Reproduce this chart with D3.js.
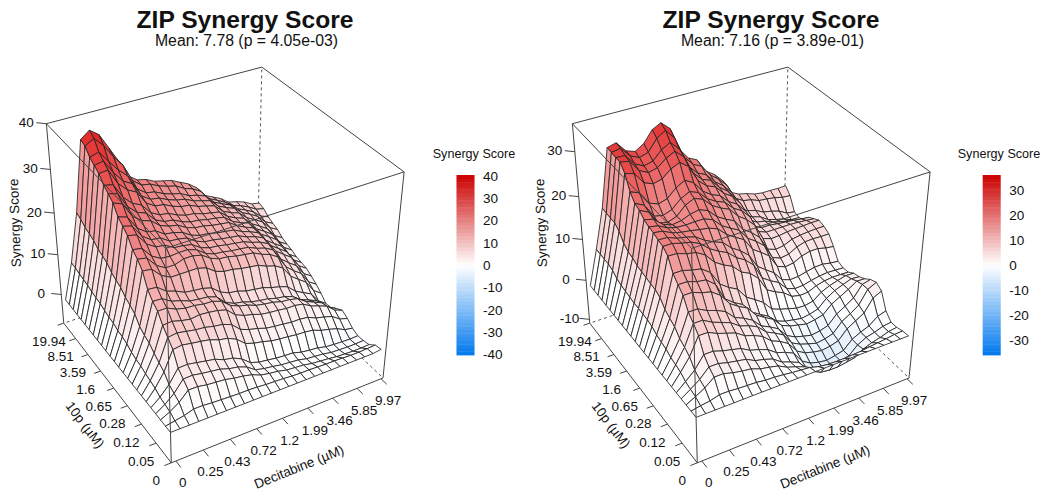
<!DOCTYPE html>
<html><head><meta charset="utf-8">
<script src="https://cdnjs.cloudflare.com/ajax/libs/d3/7.8.5/d3.min.js"></script>
<style>html,body{margin:0;background:#fff}svg{display:block}text{font-family:"Liberation Sans",Arial,sans-serif;fill:#111}</style>
</head><body><svg id="c" width="1050" height="500"></svg>
<script>
const decitabineDoses=["0","0.25","0.43","0.72","1.2","1.99","3.46","5.85","9.97"];
const tenPDoses=["0","0.05","0.12","0.28","0.65","1.6","3.59","8.51","19.94"];
// rows: 10p grid position (front to back); columns: Decitabine grid position
const scoresLeft=[
[0,0,0,0,0,0,0,0,0,0,0,0,0,0,0,0,0,0,0,0,0,0,0,0,0.3],
[0,.4,.8,1.5,1.5,1.3,1.2,1.1,1,1,.9,.7,.6,.5,.3,.2,.2,.1,0,0,-.1,-.2,-.2,-.1,0],
[0,1.1,2.5,4.6,4.6,4.2,4,3.8,3.3,3,2.5,1.6,1.2,.9,.4,.2,0,-.4,-.6,-.8,-1.1,-1.2,-1.3,-1.3,-1.2],
[0,1.4,3.2,5.8,5.9,5.5,5.2,4.9,4.2,3.8,3,1.5,1,.7,.3,.1,-.1,-.6,-.8,-1,-1.4,-1.5,-1.6,-1.6,-1.5],
[0,1.7,3.9,7,7.1,6.7,6.3,5.9,5,4.6,3.6,1.9,1.2,.9,.6,.4,.3,-.3,-.6,-.8,-1.3,-1.5,-1.6,-1.7,-1.6],
[0,2.4,5.5,10,10.3,9.9,9.6,9.2,8.4,8,7,5.2,4.5,4.1,3.5,3.2,3,2.7,2.6,2.3,1.5,1,.4,-.6,-1],
[0,2.8,6.3,11.5,11.8,11.4,11,10.8,10.3,10,9.2,7.3,6.5,6,5.3,5,4.8,4.5,4.5,4.2,3.3,2.8,2.2,.8,.2],
[0,3.1,7.2,13,13.2,12.6,12.2,12.5,12.3,12,11.4,9.5,8.6,8.1,7.4,7.1,6.9,6.6,6.6,6.2,5,4.3,3.5,1.8,1],
[0,3.6,8.3,15,15,14,13.5,13.4,13,12.9,12.2,10.5,9.6,9.1,8.3,7.9,7.6,7,6.8,6.3,4.9,4,3.1,1.2,.2],
[0,3.8,8.8,16,15.9,14.6,14,13.2,12.9,12.7,12,10,9,8.6,7.9,7.5,7.2,6.6,6.3,5.6,4.1,3.3,2.4,.3,-.8],
[0,4.2,9.6,17.5,17.3,15.7,15,14,13.7,13.5,12.9,11.2,10.3,10,9.3,9,8.7,8,7.5,6.8,5,3.9,2.9,.4,-1],
[0,4.9,11.3,20.5,20.2,18.1,17,17,17,17,16.4,14.9,14.2,14,13.5,13.2,12.9,12,11.4,10.2,7.5,6,4.6,1.8,.4],
[0,5.3,12.1,22,21.6,19.2,18,18,18.7,18.7,18.2,16.8,16,15.8,15.3,15,14.7,13.7,13,11.7,8.7,7,5.6,2.8,1.5],
[0,5.5,12.7,23,22.6,20.2,19,18.8,19,19,18.3,16.8,16,15.8,15.4,15.2,14.9,14,13.4,12.3,9.4,7.8,6.4,3.7,2.4],
[0,6,13.8,25,24.5,21.8,20.5,20.2,19,18.8,18.4,17,16.3,16.1,15.7,15.4,15.1,14.3,13.7,12.7,10.2,8.7,7.3,4.5,3.2],
[0,6.2,14.3,26,25.4,22.5,21,20.8,19.4,19.2,18.8,17.4,16.6,16.4,16,15.7,15.4,14.5,13.9,13,10.4,9,7.6,4.8,3.5],
[0,6.5,14.9,27,26.3,23.2,21.7,21.3,19.9,19.6,19,17.7,17,16.8,16.3,16,15.7,14.7,14,13.1,10.6,9.2,7.8,5.1,3.8],
[0,7,16,29,28.2,24.8,23.2,22.5,20.8,20,19.6,18.4,17.7,17.5,17,16.7,16.4,15,14,13.2,11,9.7,8.3,5.7,4.4],
[0,7.2,16.5,30,29.4,25.9,24,23.2,21,20,19.7,18.7,18,17.8,17.3,17,16.6,15,14,13.3,11.2,10,8.6,6,4.8],
[0,7.4,16.9,30.8,30.4,27,25,24,21.6,20.5,20.2,19.2,18.5,18.3,17.6,17.2,16.8,15.1,14.1,13.4,11.4,10.2,8.9,6.5,5.3],
[0,7.8,17.8,32.4,32.6,29,27,25.9,22.8,21.5,21.2,20.2,19.5,19.2,18.3,17.8,17.2,15.3,14.3,13.6,11.8,10.7,9.5,7.4,6.3],
[0,8,18.3,33.2,33.6,30.5,28,26.8,23.4,22,21.7,20.7,20,19.6,18.6,18,17.4,15.5,14.5,13.7,12,11,9.8,7.8,6.8],
[0,8.2,18.7,34,34.6,32,29.5,27.6,24,22.5,22.1,21.1,20.4,19.9,18.8,18.3,17.5,15.4,14.4,13.5,11.9,11,9.9,8.2,7.4],
[0,8.5,19.5,35.5,36.6,34.5,31.5,29,24.9,23.3,22.9,21.9,21.2,20.7,19.5,18.8,17.6,15.2,14.2,13.1,11.7,11,10.1,8.9,8.4],
[0,8.6,20,36,37.5,36,32.5,29,25,23.5,23,22,21.5,21,20,19,17.5,15,14,13,11.5,11,10.3,9.2,8.8]];
const scoresRight=[
[0,0,0,0,0,0,0,0,0,0,0,0,0,0,0,0,0,0,0,0,0,0,0,0,0],
[0,.4,.7,1.3,1.3,1.1,1,.9,.6,.5,.3,0,-.2,-.4,-1,-1.3,-1.4,-1.4,-1.3,-1.2,-.9,-.7,-.5,-.2,-.1],
[0,1.1,2.3,4,4,3.4,3,2.7,1.9,1.5,1,-.1,-.8,-1.6,-3.5,-4.5,-4.8,-4.8,-4.5,-4.1,-2.8,-2,-1.5,-.8,-.5],
[0,1.4,2.9,5,5,4.4,4,3.6,2.5,2,1.3,-.2,-1,-1.9,-4.3,-5.5,-5.9,-5.9,-5.5,-5,-3.1,-2,-1.5,-.8,-.5],
[0,1.8,3.7,6.5,6.5,5.8,5.3,4.8,3.6,3,2.2,.7,0,-1,-3.7,-5,-5.6,-5.9,-5.5,-5,-3,-2,-1.2,.4,1],
[0,2.6,5.4,9.5,9.5,8.5,7.8,7.1,5.7,5,4,2.2,1.3,0,-2.6,-3.8,-4.4,-4.8,-4.5,-3.9,-1.7,-.5,.7,3.6,4.6],
[0,3,6.3,11,11,9.8,9,8.2,6.7,6,5,3,2,.8,-1.9,-3,-3.7,-4.3,-4,-3.4,-1.2,0,1.4,4.5,5.5],
[0,3.3,7,12.3,12.3,11.2,10.5,9.5,7.4,6.5,5.3,3.2,2.2,1,-1.4,-2.5,-3.1,-3.6,-3.3,-2.7,-.6,.6,1.9,4.5,5],
[0,4,8.4,14.8,14.8,14,13.5,12,9.4,8,6.9,4.5,3.2,2,-.2,-1.1,-1.6,-2.1,-1.8,-1.3,.6,1.7,2.8,4.1,4],
[0,4.3,9.1,16,16,15.3,15,13.3,9.3,7.7,6.5,4,2.7,1.5,-.4,-1.2,-1.6,-2,-1.7,-1.1,.8,2,2.8,3.5,3.3],
[0,4.7,9.9,17.3,17.3,16.7,16.3,14.8,11.5,10,8.9,6.3,5,3.6,1.3,.5,-.1,-.7,-.8,-.4,1.1,2,2.6,3.1,3],
[0,5.4,11.4,20,19.9,19.2,18.8,17.6,15.3,14,13,11,10,8.1,4.7,3.5,2.6,1,.5,.6,1.5,2,2.2,2.2,2.1],
[0,5.7,12,21,21,20.4,20,19,17.2,16,15,13.2,12,10.1,6.4,5,3.9,1.7,1,1.1,1.6,2,2.2,2.1,2],
[0,5.8,12.1,21.3,21.2,20.4,20,19.4,18,17,16.2,14.3,13,11.3,8,6.5,5.1,2.7,2,2.1,2.6,3,3.1,2.7,2.5],
[0,5.9,12.4,21.8,21.5,20.5,20,19.7,19.3,19,18.2,16.3,15,13.8,10.9,9.5,8,4.8,4,4.3,5.3,5.8,5.8,5.3,5],
[0,5.9,12.5,22,21.6,20.5,20,19.9,20,20,19.2,17.2,16,14.9,12.4,11,9.3,5.8,5,5.3,6.4,7,7.1,7,7],
[0,6.1,12.8,22.5,22,20.2,19.5,19.8,20.6,21,20.2,18.2,17,16,13.4,12,10.2,6.7,6,6.3,7.2,7.5,7.7,7.8,7.8],
[0,6.3,13.4,23.5,22.5,19.4,19,19.7,21.6,22.5,21.7,19.7,18.5,17.6,15.4,14,12,8.2,7.5,7.6,7.9,8,8.1,8.2,8.2],
[0,6.5,13.7,24,23,19.9,19.5,20.2,22,23,22.2,20.2,19,18.2,16.2,15,12.9,8.8,8,8,8,8,7.9,7.7,7.5],
[0,6.9,14.5,25.5,24.7,21.8,21,21.6,23.4,24.5,23.4,20.9,19.5,18.7,16.7,15.5,13.3,9,8,8,7.7,7.5,7.3,7,6.8],
[0,7.7,16.2,28.5,27.9,25.3,24.5,25,26.6,27.5,26,22.3,20.5,19.7,17.6,16.3,14,9.4,8.3,7.9,7,6.5,6,5.3,5],
[0,8.1,17.1,30,29.6,27,26,26.5,28,29,27.2,23,21,20.2,18,16.5,14.2,9.6,8.5,7.9,6.6,6,5.5,4.7,4.6],
[0,8.1,17.1,30,29.9,27.5,26.5,27,28.9,30,28,23.5,21.5,20.5,18.3,16.8,14.6,10,9,8.4,7.4,7,6.4,5.3,5],
[0,8.2,17.2,30.2,30.5,28.3,27.4,28,30.5,31.7,29.5,24.7,22.5,21.5,18.9,17.3,15.3,11.6,10.4,10,9.2,9,8.7,8.2,8],
[0,8.2,17.3,30.3,30.8,28.5,27.8,29,31.5,32.5,30.7,25.5,23,22,18.8,17.5,15.5,12,11,10.5,9.8,9.5,9.5,9.4,9.5]];
const zTicksLeft=[0,10,20,30,40], zTicksRight=[-10,0,10,20,30];
const legendTicksLeft=[-40,-30,-20,-10,0,10,20,30,40], legendTicksRight=[-30,-20,-10,0,10,20,30];
const panels=[
 {dx:0,title:"ZIP Synergy Score",sub:"Mean: 7.78 (p = 4.05e-03)",scores:scoresLeft,zDomain:[-7.5,40],zTicks:zTicksLeft,legTicks:legendTicksLeft,legLim:40.4,legX:456.5,legTitleX:474},
 {dx:526,title:"ZIP Synergy Score",sub:"Mean: 7.16 (p = 3.89e-01)",scores:scoresRight,zDomain:[-11,36],zTicks:zTicksRight,legTicks:legendTicksRight,legLim:36.2,legX:456.7,legTitleX:473}];
const anchors=[[0,0,0,171,463],[1,0,0,383,378],[0,1,0,64,323],[0,0,1,166,248],[1,0,1,404,172],[0,1,1,46,124],[1,1,1,262,67]];
function fit(){const A=[],b=[];for(const [X,Y,Z,x,y] of anchors){A.push([X,Y,Z,1,0,0,0,0,-x*X,-x*Y,-x*Z]);b.push(x);A.push([0,0,0,0,X,Y,Z,1,-y*X,-y*Y,-y*Z]);b.push(y);}
 const n=11,M=d3.range(n).map(i=>d3.range(n+1).map(j=>{let s=0;A.forEach((r,k)=>s+=r[i]*(j<n?r[j]:b[k]));return s;}));
 for(let i=0;i<n;i++){let p=i;for(let k=i;k<n;k++)if(Math.abs(M[k][i])>Math.abs(M[p][i]))p=k;[M[i],M[p]]=[M[p],M[i]];for(let k=0;k<n;k++)if(k!==i){const f=M[k][i]/M[i][i];for(let j=i;j<=n;j++)M[k][j]-=f*M[i][j];}}
 return M.map((r,i)=>r[n]/r[i]);}
const m=fit();
const proj=(s,t,h)=>{const w=m[8]*s+m[9]*t+m[10]*h+1;return [(m[0]*s+m[1]*t+m[2]*h+m[3])/w,(m[4]*s+m[5]*t+m[6]*h+m[7])/w];};
const svg=d3.select("#c");
const lineGen=d3.line();
panels.forEach(P=>{
 const g=svg.append("g").attr("transform",`translate(${P.dx},0)`);
 const nV=P.scores.length,nU=P.scores[0].length;
 const su=d3.scaleLinear([0,nU-1],[0,0.975]),sv=d3.scaleLinear([0,nV-1],[0,0.955]),sz=d3.scaleLinear(P.zDomain,[0,1]);
 const col=d3.scaleLinear([-P.legLim,0,P.legLim],["#0078EE","#ffffff","#CC0000"]).clamp(true);
 const fade=d3.scalePow().exponent(1.2).domain([0,P.legLim]).range([0,1]).clamp(true);
 const redRamp=d3.interpolateRgb("#ffffff","#E00C0C"),blueRamp=d3.interpolateRgb("#ffffff","#0078EE");
 const surf=z=>z>=0?redRamp(fade(z)):blueRamp(fade(-z));
 const edge=(a,b,o={})=>g.append("path").attr("d",lineGen([proj(...a),proj(...b)])).attr("fill","none").attr("stroke",o.c||"#444").attr("stroke-width",o.w||1).attr("stroke-dasharray",o.d||null);
 const C=(s,t,h)=>[s,t,h];
 [[C(1,1,0),C(0,1,0)],[C(1,1,0),C(1,0,0)],[C(1,1,0),C(1,1,1)]].forEach(e=>edge(e[0],e[1],{d:"3,3",w:.9}));
 [[C(0,1,1),C(1,1,1)],[C(1,1,1),C(1,0,1)],[C(0,1,0),C(0,1,1)],[C(1,0,0),C(1,0,1)],[C(0,0,0),C(1,0,0)],[C(0,0,0),C(0,1,0)]].forEach(e=>edge(e[0],e[1]));
 const cells=[];
 for(let v=nV-2;v>=0;v--)for(let u=nU-2;u>=0;u--)cells.push({u,v,z:[P.scores[v][u],P.scores[v][u+1],P.scores[v+1][u+1],P.scores[v+1][u]]});
 g.append("g").selectAll("path").data(cells).join("path")
  .attr("d",d=>lineGen([[d.u,d.v,0],[d.u+1,d.v,1],[d.u+1,d.v+1,2],[d.u,d.v+1,3]].map(q=>proj(su(q[0]),sv(q[1]),sz(d.z[q[2]]))))+"Z")
  .attr("fill",d=>surf(d.z[0])).attr("stroke","#222").attr("stroke-width",.85).attr("stroke-linejoin","round");
 [[C(0,0,1),C(1,0,1)],[C(0,0,1),C(0,1,1)],[C(0,0,0),C(0,0,1)]].forEach(e=>edge(e[0],e[1]));
 const tickU=d3.scalePoint(decitabineDoses,[0.02,0.99]),tickV=d3.scalePoint(tenPDoses,[0,1]);
 const txt=(x,y,s,o={})=>g.append("text").attr("x",x).attr("y",y).attr("text-anchor",o.a||"middle").attr("dominant-baseline","central").attr("font-size",o.f||13.5).attr("font-weight",o.b||null).attr("transform",o.r!=null?`rotate(${o.r} ${x} ${y})`:null).text(s);
 decitabineDoses.forEach(d=>{const a=proj(tickU(d),0,0),b=proj(tickU(d),-0.04,0);g.append("line").attr("x1",a[0]).attr("y1",a[1]).attr("x2",b[0]).attr("y2",b[1]).attr("stroke","#444");txt(a[0]+7,a[1]+22,d);});
 tenPDoses.forEach(d=>{const a=proj(0,tickV(d),0),b=proj(-0.03,tickV(d),0);g.append("line").attr("x1",a[0]).attr("y1",a[1]).attr("x2",b[0]).attr("y2",b[1]).attr("stroke","#444");txt(a[0]-15,a[1]+18,d);});
 P.zTicks.forEach(d=>{const a=proj(0,1,sz(d));g.append("line").attr("x1",a[0]).attr("y1",a[1]).attr("x2",a[0]-10).attr("y2",a[1]-1).attr("stroke","#444");txt(a[0]-20,a[1]-1,d);});
 txt(15,223,"Synergy Score",{f:13.5,r:-92});
 txt(85,425,"10p (µM)",{f:13.5,r:53});
 txt(299,467,"Decitabine (µM)",{f:13.5,r:-22});
 txt(245,19,P.title,{f:24.6,b:"bold"});
 txt(246.5,40,P.sub,{f:15.8});
 const ly=d3.scaleLinear([-P.legLim,P.legLim],[355,175]);
 const steps=d3.range(-P.legLim,P.legLim-1e-6,2*P.legLim/50);
 g.append("g").selectAll("rect").data(steps).join("rect").attr("x",P.legX).attr("width",18).attr("y",d=>ly(d+2*P.legLim/50)).attr("height",d=>ly(d)-ly(d+2*P.legLim/50)+.4).attr("fill",d=>col(d+P.legLim/50));
 txt(P.legTitleX,154,"Synergy Score",{f:12.6});
 P.legTicks.forEach(d=>txt(P.legX+26.5,ly(d)+.5,d,{a:"start",f:13.5}));
});
</script></body></html>
